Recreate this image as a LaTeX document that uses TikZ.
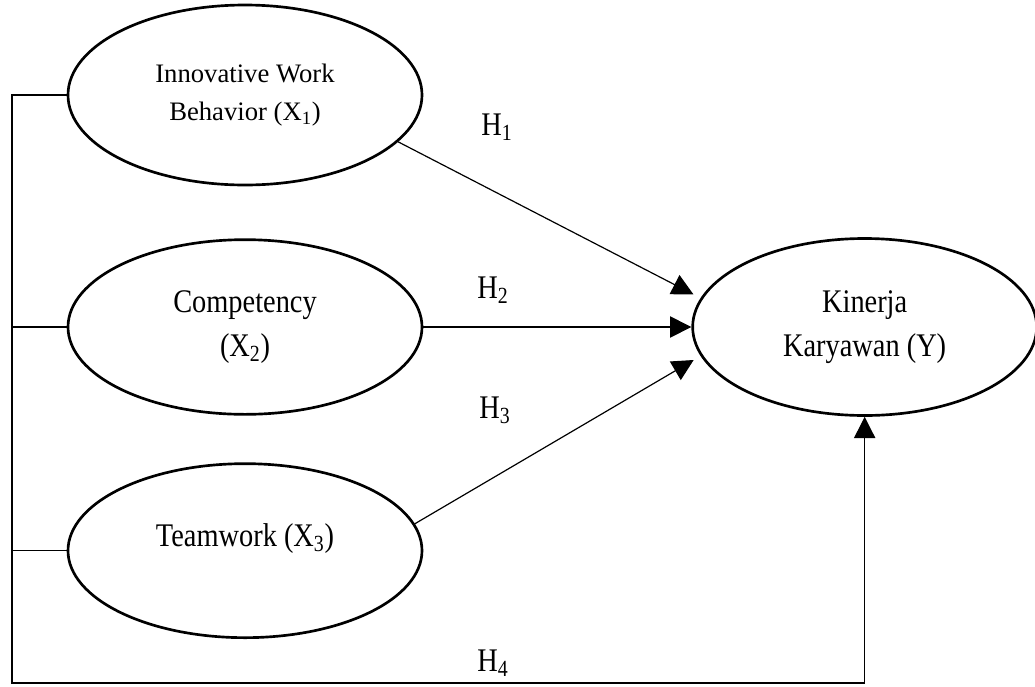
\documentclass[tikz,border=0pt]{standalone}
\usepackage{fontspec}
\setmainfont{Liberation Serif}
\newfontfamily\narrowserif[FakeStretch=0.86]{Liberation Serif}
\usetikzlibrary{positioning,arrows.meta,shapes.geometric}

\begin{document}
\begin{tikzpicture}[x=0.75pt,y=-0.75pt,
      var/.style={ellipse,draw=black,line width=2pt,inner sep=0pt,align=center,
                  minimum width=265.5pt,minimum height=131pt,
                  font=\narrowserif\fontsize{24.75}{33}\selectfont},
      hyp/.style={font=\narrowserif\fontsize{24.75}{30}\selectfont,inner sep=0pt},
      conn/.style={draw=black,line width=0.9pt},
      arr/.style={conn,-{Triangle[length=16pt,width=16pt]}}]

    \useasboundingbox (0,0) rectangle (1035,686);

    \node[var,minimum height=135pt,font=\fontsize{20}{28.5}\selectfont] (X1) at (245,95)
         {Innovative Work\\Behavior (X\textsubscript{1})};
    \node[var,minimum height=131pt,below=39pt of X1] (X2) {Competency\\(X\textsubscript{2})};
    \node[var,minimum height=130.5pt,below=35pt of X2,text depth=23pt] (X3)
         {Teamwork (X\textsubscript{3})};
    \node[var,minimum width=258pt,minimum height=132.75pt,right=201pt of X2] (Y)
         {Kinerja\\Karyawan (Y)};

    \node[hyp] (h1) at (497,127) {H\textsubscript{1}};
    \node[hyp] (h2) at (493,290) {H\textsubscript{2}};
    \node[hyp] (h3) at (495,410) {H\textsubscript{3}};
    \node[hyp] (h4) at (493,663) {H\textsubscript{4}};

    \coordinate (corner) at (12,683);

    \draw[arr,shorten >=6pt] (X1.-17) -- (Y.170);
    \draw[arr] (X2) -- (Y);
    \draw[arr,shorten >=6pt] (X3.9) -- (Y.190);
    \draw[arr] (X1.west) -| (corner) -| (Y.south);
    \draw[conn] (X2.west) -- (X2.west -| corner);
    \draw[conn] (X3.west) -- (X3.west -| corner);
  \end{tikzpicture}
\end{document}
